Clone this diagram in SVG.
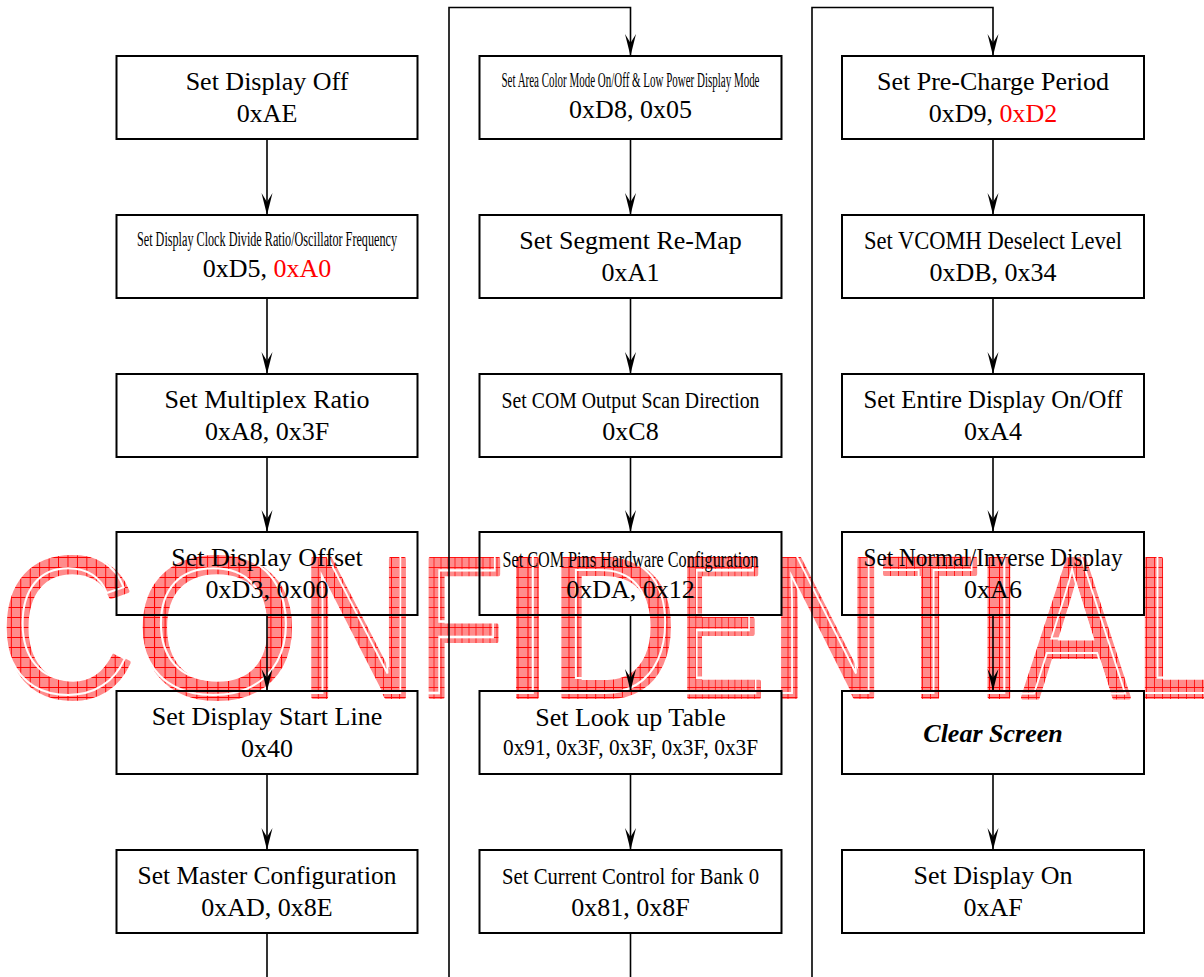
<svg xmlns="http://www.w3.org/2000/svg" width="1204" height="977" viewBox="0 0 1204 977">
<defs>
<pattern id="hatch" width="10" height="10" patternUnits="userSpaceOnUse">
<rect width="10" height="10" fill="#ff8c8c"/>
<path d="M0,0.5H10M0.5,0V10" stroke="#ff0000" stroke-width="1"/>
</pattern>
<marker id="arr" markerUnits="userSpaceOnUse" markerWidth="24" markerHeight="12" viewBox="0 0 24 12" refX="22" refY="6" orient="auto">
<path d="M0,0.5 L22,6 L0,11.5 L9,6 Z" fill="#000"/>
</marker>
<style>
.wm{font-family:"Liberation Sans",Arial,sans-serif;font-size:201px;text-anchor:middle;fill:url(#hatch);stroke:url(#hatch);stroke-width:4;stroke-linejoin:round}
.wmw{font-family:"Liberation Sans",Arial,sans-serif;font-size:201px;text-anchor:middle;fill:none;stroke:#fff;stroke-width:2;vector-effect:non-scaling-stroke}
.box{fill:none;stroke:#000;stroke-width:2}
.t{font-family:"Liberation Serif","Times New Roman",serif;font-size:26px;text-anchor:middle;fill:#000}
.s{font-family:"Liberation Serif","Times New Roman",serif;font-size:20px;text-anchor:middle;fill:#000}
.m{font-family:"Liberation Serif","Times New Roman",serif;font-size:23px;text-anchor:middle;fill:#000}
.bi{font-weight:bold;font-style:italic}
.red{fill:#ff0000}
.ln{fill:none;stroke:#000;stroke-width:1.6}
</style>
</defs>
<rect width="1204" height="977" fill="#fff"/>

<g id="watermark">
<text class="wm" transform="translate(67.5,697) scale(0.944,1)">C</text>
<text class="wm" transform="translate(217.5,697) scale(1.058,1)">O</text>
<text class="wm" transform="translate(358.5,697) scale(0.814,1)">N</text>
<text class="wm" transform="translate(461.5,697) scale(0.70,1)">F</text>
<text class="wm" transform="translate(527.5,697) scale(1,1)">I</text>
<text class="wm" transform="translate(613,697) scale(0.89,1)">D</text>
<text class="wm" transform="translate(721.4,697) scale(0.652,1)">E</text>
<text class="wm" transform="translate(827.5,697) scale(0.80,1)">N</text>
<text class="wm" transform="translate(930,697) scale(0.80,1)">T</text>
<text class="wm" transform="translate(999,697) scale(1,1)">I</text>
<text class="wm" transform="translate(1076,697) scale(0.80,1)">A</text>
<text class="wm" transform="translate(1178,697) scale(0.80,1)">L</text>
<text class="wmw" transform="translate(63.5,693) scale(0.944,1)">C</text>
<text class="wmw" transform="translate(213.5,693) scale(1.058,1)">O</text>
<text class="wmw" transform="translate(354.5,693) scale(0.814,1)">N</text>
<text class="wmw" transform="translate(457.5,693) scale(0.70,1)">F</text>
<text class="wmw" transform="translate(523.5,693) scale(1,1)">I</text>
<text class="wmw" transform="translate(609,693) scale(0.89,1)">D</text>
<text class="wmw" transform="translate(717.4,693) scale(0.652,1)">E</text>
<text class="wmw" transform="translate(823.5,693) scale(0.80,1)">N</text>
<text class="wmw" transform="translate(926,693) scale(0.80,1)">T</text>
<text class="wmw" transform="translate(995,693) scale(1,1)">I</text>
<text class="wmw" transform="translate(1072,693) scale(0.80,1)">A</text>
<text class="wmw" transform="translate(1174,693) scale(0.80,1)">L</text>
</g>

<g id="connectors">
<line class="ln" x1="267" y1="139" x2="267" y2="215" marker-end="url(#arr)"/>
<line class="ln" x1="267" y1="298" x2="267" y2="374" marker-end="url(#arr)"/>
<line class="ln" x1="267" y1="457" x2="267" y2="532" marker-end="url(#arr)"/>
<line class="ln" x1="267" y1="615" x2="267" y2="691" marker-end="url(#arr)"/>
<line class="ln" x1="267" y1="774" x2="267" y2="850" marker-end="url(#arr)"/>
<line class="ln" x1="267" y1="933" x2="267" y2="977"/>
<path class="ln" d="M449,977 V7.5 H630.5 V56" marker-end="url(#arr)"/>
<line class="ln" x1="630.5" y1="139" x2="630.5" y2="215" marker-end="url(#arr)"/>
<line class="ln" x1="630.5" y1="298" x2="630.5" y2="374" marker-end="url(#arr)"/>
<line class="ln" x1="630.5" y1="457" x2="630.5" y2="532" marker-end="url(#arr)"/>
<line class="ln" x1="630.5" y1="615" x2="630.5" y2="691" marker-end="url(#arr)"/>
<line class="ln" x1="630.5" y1="774" x2="630.5" y2="850" marker-end="url(#arr)"/>
<line class="ln" x1="630.5" y1="933" x2="630.5" y2="977"/>
<path class="ln" d="M812,977 V7.5 H993 V56" marker-end="url(#arr)"/>
<line class="ln" x1="993" y1="139" x2="993" y2="215" marker-end="url(#arr)"/>
<line class="ln" x1="993" y1="298" x2="993" y2="374" marker-end="url(#arr)"/>
<line class="ln" x1="993" y1="457" x2="993" y2="532" marker-end="url(#arr)"/>
<line class="ln" x1="993" y1="615" x2="993" y2="691" marker-end="url(#arr)"/>
<line class="ln" x1="993" y1="774" x2="993" y2="850" marker-end="url(#arr)"/>
</g>

<g id="n1"><rect class="box" x="116.5" y="56" width="301" height="83"/>
<text class="t" x="267" y="90">Set Display Off</text><text class="t" x="267" y="122">0xAE</text></g>
<g id="n2"><rect class="box" x="116.5" y="215" width="301" height="83"/>
<text class="s" x="267" y="246" textLength="260" lengthAdjust="spacingAndGlyphs">Set Display Clock Divide Ratio/Oscillator Frequency</text>
<text class="t" x="267" y="277">0xD5, <tspan class="red">0xA0</tspan></text></g>
<g id="n3"><rect class="box" x="116.5" y="374" width="301" height="83"/>
<text class="t" x="267" y="408">Set Multiplex Ratio</text><text class="t" x="267" y="440">0xA8, 0x3F</text></g>
<g id="n4"><rect class="box" x="116.5" y="532" width="301" height="83"/>
<text class="t" x="267" y="566">Set Display Offset</text><text class="t" x="267" y="598">0xD3, 0x00</text></g>
<g id="n5"><rect class="box" x="116.5" y="691" width="301" height="83"/>
<text class="t" x="267" y="725">Set Display Start Line</text><text class="t" x="267" y="757">0x40</text></g>
<g id="n6"><rect class="box" x="116.5" y="850" width="301" height="83"/>
<text class="t" x="267" y="884" textLength="259" lengthAdjust="spacingAndGlyphs">Set Master Configuration</text><text class="t" x="267" y="916">0xAD, 0x8E</text></g>

<g id="n7"><rect class="box" x="479.5" y="56" width="302" height="83"/>
<text class="s" x="630.5" y="87" textLength="258" lengthAdjust="spacingAndGlyphs">Set Area Color Mode On/Off &amp; Low Power Display Mode</text>
<text class="t" x="630.5" y="118">0xD8, 0x05</text></g>
<g id="n8"><rect class="box" x="479.5" y="215" width="302" height="83"/>
<text class="t" x="630.5" y="249">Set Segment Re-Map</text><text class="t" x="630.5" y="281">0xA1</text></g>
<g id="n9"><rect class="box" x="479.5" y="374" width="302" height="83"/>
<text class="m" x="630.5" y="408" textLength="258" lengthAdjust="spacingAndGlyphs">Set COM Output Scan Direction</text><text class="t" x="630.5" y="440">0xC8</text></g>
<g id="n10"><rect class="box" x="479.5" y="532" width="302" height="83"/>
<text class="m" x="630.5" y="567" textLength="256" lengthAdjust="spacingAndGlyphs">Set COM Pins Hardware Configuration</text><text class="t" x="630.5" y="598">0xDA, 0x12</text></g>
<g id="n11"><rect class="box" x="479.5" y="691" width="302" height="83"/>
<text class="t" x="630.5" y="726">Set Look up Table</text>
<text class="m" x="630.5" y="755" textLength="255" lengthAdjust="spacingAndGlyphs">0x91, 0x3F, 0x3F, 0x3F, 0x3F</text></g>
<g id="n12"><rect class="box" x="479.5" y="850" width="302" height="83"/>
<text class="m" x="630.5" y="884" textLength="257" lengthAdjust="spacingAndGlyphs">Set Current Control for Bank 0</text><text class="t" x="630.5" y="916">0x81, 0x8F</text></g>

<g id="n13"><rect class="box" x="842" y="56" width="302" height="83"/>
<text class="t" x="993" y="90">Set Pre-Charge Period</text><text class="t" x="993" y="122">0xD9, <tspan class="red">0xD2</tspan></text></g>
<g id="n14"><rect class="box" x="842" y="215" width="302" height="83"/>
<text class="t" x="993" y="249" textLength="258" lengthAdjust="spacingAndGlyphs">Set VCOMH Deselect Level</text><text class="t" x="993" y="281">0xDB, 0x34</text></g>
<g id="n15"><rect class="box" x="842" y="374" width="302" height="83"/>
<text class="t" x="993" y="408" textLength="259" lengthAdjust="spacingAndGlyphs">Set Entire Display On/Off</text><text class="t" x="993" y="440">0xA4</text></g>
<g id="n16"><rect class="box" x="842" y="532" width="302" height="83"/>
<text class="t" x="993" y="566" textLength="259" lengthAdjust="spacingAndGlyphs">Set Normal/Inverse Display</text><text class="t" x="993" y="598">0xA6</text></g>
<g id="n17"><rect class="box" x="842" y="691" width="302" height="83"/>
<text class="t bi" x="993" y="742">Clear Screen</text></g>
<g id="n18"><rect class="box" x="842" y="850" width="302" height="83"/>
<text class="t" x="993" y="884">Set Display On</text><text class="t" x="993" y="916">0xAF</text></g>
</svg>
